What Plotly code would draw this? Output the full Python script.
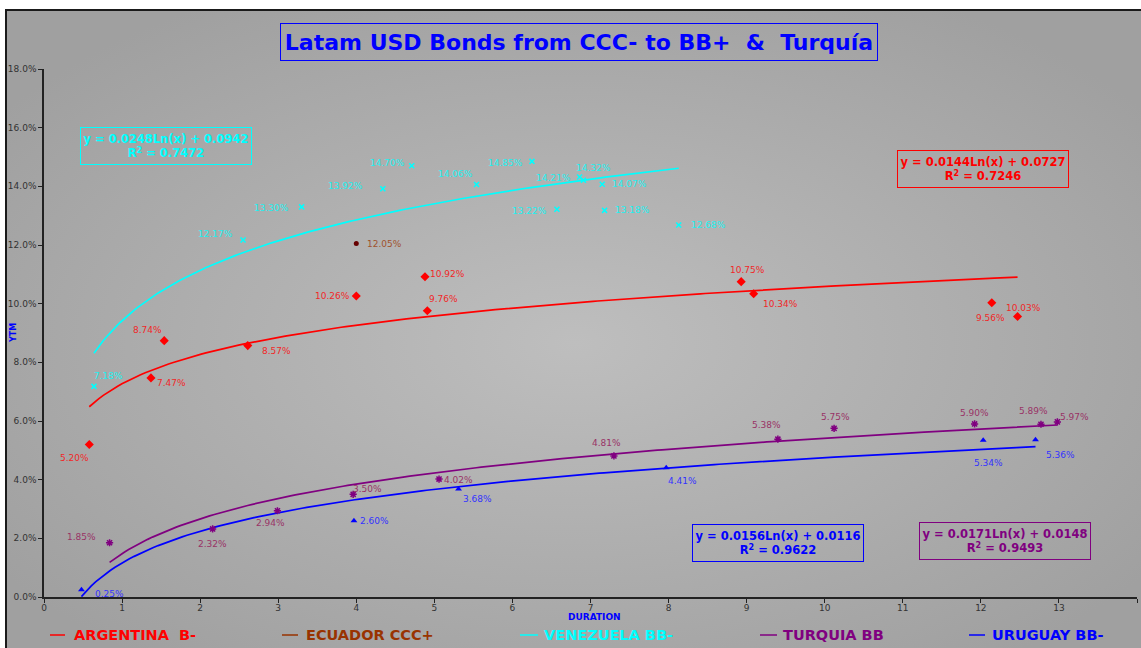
import base64
import numpy as np
import plotly.graph_objects as go

# ---------------- data ----------------
# Argentina B-
arg_dur = [0.58, 1.37, 1.54, 2.61, 4.00, 4.88, 4.91, 8.93, 9.09, 12.14, 12.47]
arg_ytm = [0.0520, 0.0747, 0.0874, 0.0857, 0.1026, 0.1092, 0.0976, 0.1075, 0.1034, 0.1003, 0.0956]
# Ecuador CCC+
ecu_dur = [4.00]
ecu_ytm = [0.1205]
# Venezuela BB-
ven_dur = [0.64, 2.55, 3.30, 4.34, 4.71, 5.54, 6.25, 6.57, 6.91, 6.86, 7.15, 7.18, 8.13]
ven_ytm = [0.0718, 0.1217, 0.1330, 0.1392, 0.1470, 0.1406, 0.1485, 0.1322, 0.1421, 0.1432, 0.1407, 0.1318, 0.1268]
# Turquia BB
tur_dur = [0.84, 2.16, 2.99, 3.96, 5.06, 7.30, 9.40, 10.12, 11.92, 12.77, 12.98]
tur_ytm = [0.0185, 0.0232, 0.0294, 0.0350, 0.0402, 0.0481, 0.0538, 0.0575, 0.0590, 0.0589, 0.0597]
# Uruguay BB-
uru_dur = [0.48, 3.97, 5.31, 7.97, 12.03, 12.70]
uru_ytm = [0.0025, 0.0260, 0.0368, 0.0441, 0.0534, 0.0536]

# logarithmic trend coefficients  y = a*Ln(x) + b, with R^2
arg_fit = (0.0144, 0.0727, 0.7246)
ven_fit = (0.0248, 0.0942, 0.7472)
tur_fit = (0.0171, 0.0148, 0.9493)
uru_fit = (0.0156, 0.0116, 0.9622)

x_ticks = list(range(0, 15))
y_ticks = [0.0, 0.02, 0.04, 0.06, 0.08, 0.10, 0.12, 0.14, 0.16, 0.18]

# pixel offsets of each value label relative to its marker (x right, y up)
arg_lbl = [(-15, -14), (21, -5), (-17, 11), (29, -5), (-24, 0), (23, 3), (16, 12),
           (6, 12), (27, -10), (32, -5), (-27, -1)]
ecu_lbl = [(28, 0)]
ven_lbl = [(15, 10), (-28, 6), (-30, -1), (-37, 3), (-24, 3), (-21, 11), (-26, -2),
           (-27, -2), (-30, 2), (14, 9), (27, 0), (28, 0), (30, 0)]
tur_lbl = [(-28, 6), (0, -15), (-7, -12), (14, 5), (19, -1), (-7, 13), (-11, 14),
           (1, 11), (0, 11), (-7, 13), (17, 5)]
uru_lbl = [(28, -4), (21, 0), (19, -10), (16, -13), (5, -23), (25, -15)]

RED = "#ff0000"
BROWN = "#993300"
CYAN = "#00ffff"
PURPLE = "#800080"
BLUE = "#0000ff"
FONT = "DejaVu Sans"

fig = go.Figure()


def trend(dur, fit, color):
    a, b, _ = fit
    xs = np.linspace(min(dur), max(dur), 200)
    fig.add_trace(go.Scatter(x=xs, y=a * np.log(xs) + b, mode="lines",
                             line=dict(color=color, width=1.7), hoverinfo="skip",
                             showlegend=False))


def points(dur, ytm, color, symbol, size, lw=0):
    fig.add_trace(go.Scatter(x=dur, y=ytm, mode="markers",
                             marker=dict(color=color, symbol=symbol, size=size,
                                         line=dict(color=color, width=lw)),
                             showlegend=False))


def labels(dur, ytm, shifts, color):
    for x, y, (dx, dy) in zip(dur, ytm, shifts):
        fig.add_annotation(x=x, y=y, text=f"{y * 100:.2f}%", showarrow=False,
                           xshift=dx, yshift=dy, xanchor="center", yanchor="middle",
                           font=dict(family=FONT, size=9, color=color))


trend(ven_dur, ven_fit, CYAN)
trend(arg_dur, arg_fit, RED)
trend(tur_dur, tur_fit, PURPLE)
trend(uru_dur, uru_fit, BLUE)

points(arg_dur, arg_ytm, RED, "diamond", 7)
points(ecu_dur, ecu_ytm, "#660000", "circle", 5)
points(ven_dur, ven_ytm, CYAN, "x-thin-open", 5, 1.5)
points(tur_dur, tur_ytm, PURPLE, "asterisk-open", 6, 1.5)
points(uru_dur, uru_ytm, BLUE, "triangle-up", 6)

labels(arg_dur, arg_ytm, arg_lbl, "#f02828")
labels(ecu_dur, ecu_ytm, ecu_lbl, "#a0522d")
labels(ven_dur, ven_ytm, ven_lbl, "#22f0f0")
labels(tur_dur, tur_ytm, tur_lbl, "#993366")
labels(uru_dur, uru_ytm, uru_lbl, "#3333ff")


# equation boxes
def eq_box(fit, x, y, color):
    a, b, r2 = fit
    fig.add_annotation(x=x, y=y, xref="x", yref="y", showarrow=False,
                       xanchor="center", yanchor="middle",
                       text=f"y = {a:.4f}Ln(x) + {b:.4f}<br>R<sup>2</sup> = {r2:.4f}",
                       font=dict(family=FONT, size=11.5, color=color, weight="bold"),
                       bordercolor=color, borderwidth=1, borderpad=0,
                       width=170, height=36)


eq_box(ven_fit, 1.56, 0.1539, CYAN)
eq_box(arg_fit, 12.03, 0.1460, RED)
eq_box(uru_fit, 9.40, 0.0185, BLUE)
eq_box(tur_fit, 12.31, 0.0190, PURPLE)

# chart area background (radial shading) and frame
svg = ("<svg xmlns='http://www.w3.org/2000/svg' width='1135' height='638' "
       "preserveAspectRatio='none'><defs><radialGradient id='g' cx='0.5' cy='0.52' r='0.62'>"
       "<stop offset='0' stop-color='#bebebe'/><stop offset='1' stop-color='#a0a0a0'/>"
       "</radialGradient></defs><rect width='100%' height='100%' fill='url(#g)'/></svg>")
src = "data:image/svg+xml;base64," + base64.b64encode(svg.encode()).decode()

L, R, T, B = 44, 4, 69, 51
W, H = 1141, 648
pw, ph = W - L - R, H - T - B


def px(xp):
    return (xp - L) / pw


def py(yp):
    return (H - B - yp) / ph


fig.add_layout_image(source=src, xref="paper", yref="paper", x=px(6), y=py(10),
                     sizex=px(W + 2) - px(6), sizey=py(10) - py(H + 2),
                     xanchor="left", yanchor="top", sizing="stretch", layer="below")
fig.add_shape(type="rect", xref="paper", yref="paper", x0=px(6), x1=px(W + 4),
              y0=py(H + 4), y1=py(10), line=dict(color="#1a1a1a", width=2), layer="above")

# title
fig.add_annotation(xref="paper", yref="paper", x=px(578.5), y=py(41.5), showarrow=False,
                   xanchor="center", yanchor="middle",
                   text="Latam USD Bonds from CCC- to BB+  &  Turquía",
                   font=dict(family=FONT, size=22, color=BLUE, weight="bold"),
                   bordercolor=BLUE, borderwidth=1, borderpad=0, width=596, height=36)

# axis titles
fig.add_annotation(xref="paper", yref="paper", x=px(594.5), y=py(617), showarrow=False,
                   xanchor="center", yanchor="middle",
                   text="DURATION", font=dict(family=FONT, size=9, color=BLUE, weight="bold"))
fig.add_annotation(xref="paper", yref="paper", x=px(13), y=py(333), showarrow=False,
                   xanchor="center", yanchor="middle",
                   text="YTM", textangle=-90,
                   font=dict(family=FONT, size=8, color=BLUE, weight="bold"))

# legend row
legend_items = [("ARGENTINA  B-", RED, 50, 65, 72),
                ("ECUADOR CCC+", BROWN, 282, 298, 304),
                ("VENEZUELA BB-", CYAN, 520, 538, 542),
                ("TURQUIA BB", PURPLE, 760, 777, 781),
                ("URUGUAY BB-", BLUE, 969, 985, 990)]
for name, color, lx0, lx1, tx in legend_items:
    fig.add_shape(type="line", xref="paper", yref="paper", x0=px(lx0), x1=px(lx1),
                  y0=py(635), y1=py(635), line=dict(color=color, width=1.5))
    fig.add_annotation(xref="paper", yref="paper", x=px(tx), y=py(635),
                       xanchor="left", yanchor="middle", showarrow=False, text=name,
                       font=dict(family=FONT, size=14.5, color=color, weight="bold"))

axis_common = dict(showgrid=False, zeroline=False, showline=True, linecolor="#222222",
                   linewidth=1.5, ticks="outside", ticklen=4, tickwidth=1.2,
                   tickcolor="#222222",
                   tickfont=dict(family=FONT, size=9, color="#333333"))

fig.update_layout(
    width=W, height=H,
    margin=dict(l=L, r=R, t=T, b=B, pad=0),
    paper_bgcolor="white",
    plot_bgcolor="rgba(0,0,0,0)",
    showlegend=False,
    xaxis=dict(range=[0, 14], tickvals=x_ticks, ticklabelstandoff=-3, **axis_common),
    yaxis=dict(range=[0, 0.18], tickvals=y_ticks, tickformat=".1%", **axis_common),
)

fig.write_html("out.html")
